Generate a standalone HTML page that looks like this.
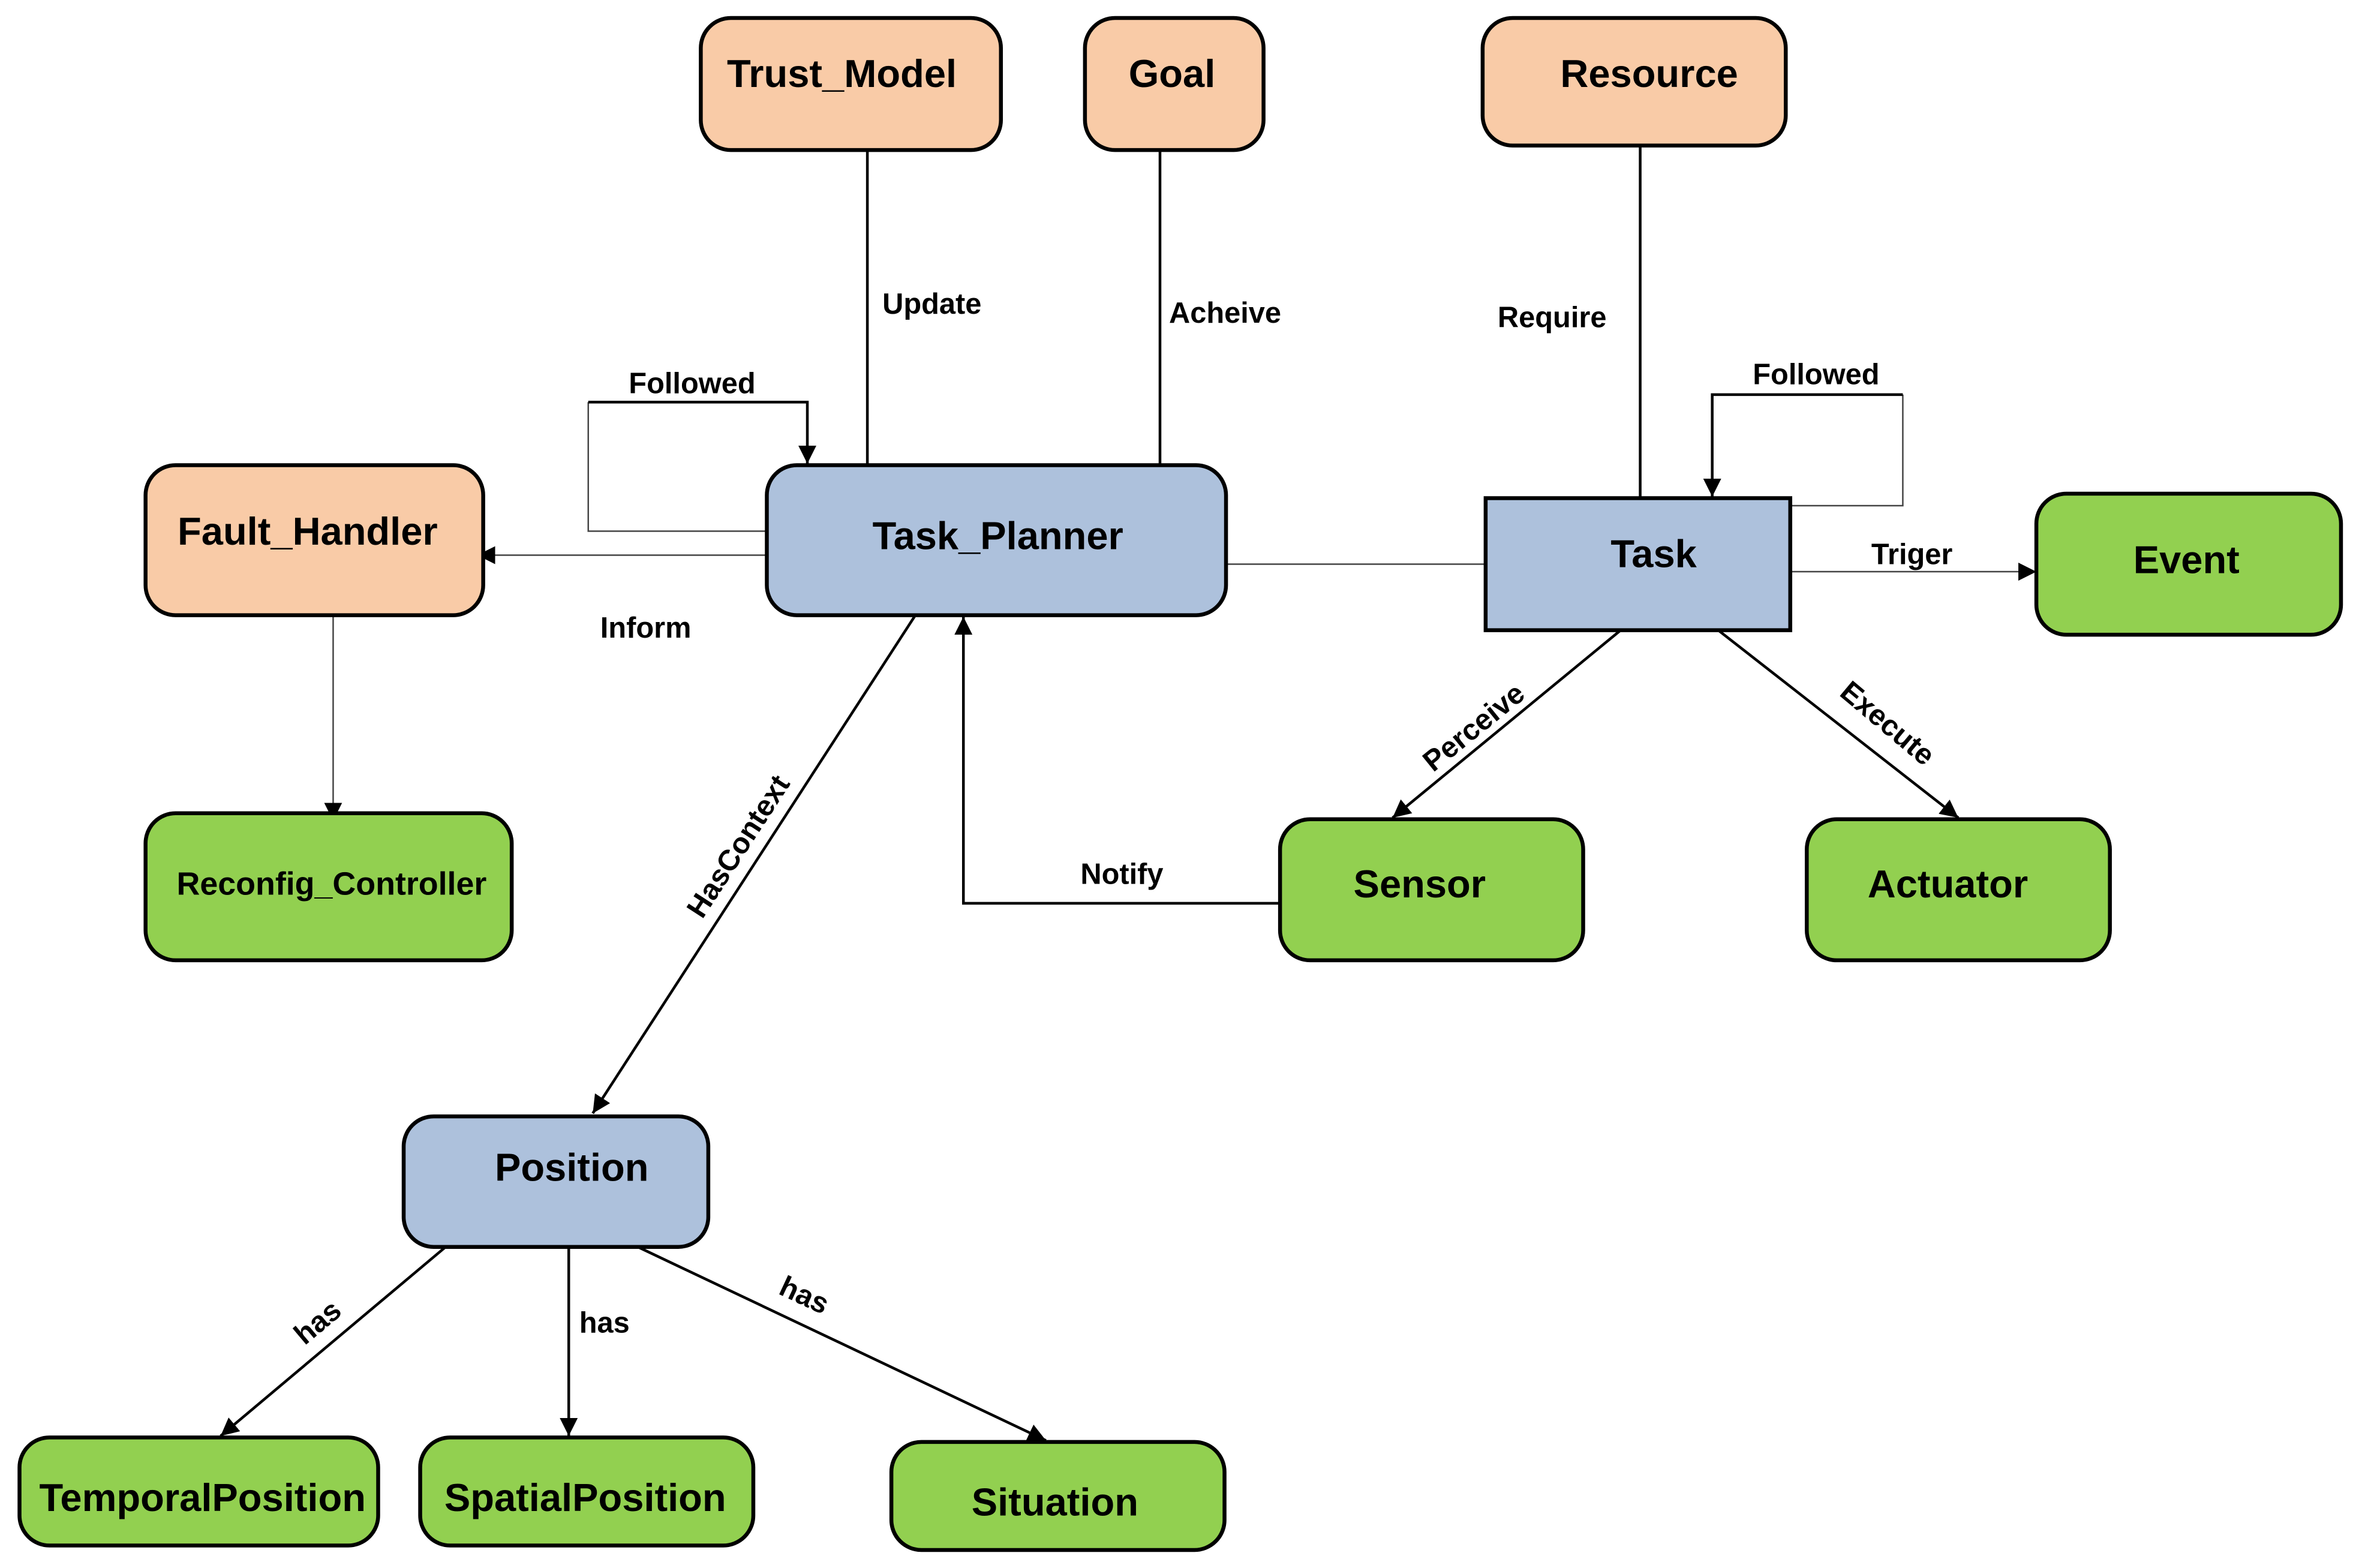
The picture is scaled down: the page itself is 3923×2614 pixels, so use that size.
<!DOCTYPE html>
<html><head><meta charset="utf-8"><style>
html,body{margin:0;padding:0;background:#fff;}
svg{display:block;}
text{font-family:"Liberation Sans",Arial,sans-serif;font-weight:bold;fill:#000;}
.n{stroke:#000;stroke-width:2.6;}
.o{fill:#f9cba7;}.b{fill:#adc1dc;}.g{fill:#92d050;}
.t{font-size:26px;text-anchor:middle;dominant-baseline:central;}
.l{font-size:19.5px;}
.e{stroke:#000;stroke-width:1.8;fill:none;}
.th{stroke:#444;stroke-width:1;fill:none;}
</style></head><body>
<svg width="3923" height="2614" viewBox="0 0 1568 1045" preserveAspectRatio="none">
<defs>
<marker id="a" viewBox="0 0 10 10" refX="10" refY="5" markerWidth="12" markerHeight="12" markerUnits="userSpaceOnUse" orient="auto"><path d="M0,0L10,5L0,10z" fill="#000"/></marker>
</defs>
<line class="e" x1="578" y1="100" x2="578" y2="310"/>
<line class="e" x1="773" y1="100" x2="773" y2="310"/>
<line class="e" x1="1093" y1="97" x2="1093" y2="332"/>
<polyline class="th" points="511,354 392,354 392,268"/>
<polyline class="e" points="392,268 538,268 538,309" marker-end="url(#a)"/>
<line class="th" x1="511" y1="370" x2="318" y2="370" marker-end="url(#a)"/>
<line class="th" x1="222" y1="410" x2="222" y2="547" marker-end="url(#a)"/>
<line class="th" x1="817" y1="376" x2="990" y2="376"/>
<line class="th" x1="1193" y1="381" x2="1357" y2="381" marker-end="url(#a)"/>
<polyline class="th" points="1193,337 1268,337 1268,263"/>
<polyline class="e" points="1268,263 1141,263 1141,331" marker-end="url(#a)"/>
<line class="e" x1="1080" y1="420" x2="928" y2="545" marker-end="url(#a)"/>
<line class="e" x1="1145" y1="420" x2="1305" y2="545" marker-end="url(#a)"/>
<polyline class="e" points="853,602 642,602 642,411" marker-end="url(#a)"/>
<line class="e" x1="610" y1="410" x2="395" y2="742" marker-end="url(#a)"/>
<line class="e" x1="297" y1="831" x2="147" y2="957" marker-end="url(#a)"/>
<line class="e" x1="379" y1="831" x2="379" y2="957" marker-end="url(#a)"/>
<line class="e" x1="425" y1="831" x2="697" y2="960" marker-end="url(#a)"/>
<text class="l" x="588" y="209">Update</text>
<text class="l" x="779" y="215">Acheive</text>
<text class="l" x="998" y="218">Require</text>
<text class="l" x="419" y="262">Followed</text>
<text class="l" x="1168" y="256">Followed</text>
<text class="l" x="400" y="425">Inform</text>
<text class="l" x="1247" y="376">Triger</text>
<text class="l" x="720" y="589">Notify</text>
<text class="l" x="386" y="888">has</text>
<text class="l" transform="translate(955,515) rotate(-39)">Perceive</text>
<text class="l" transform="translate(1225,463) rotate(40)">Execute</text>
<text class="l" transform="translate(468,613) rotate(-57)">HasContext</text>
<text class="l" transform="translate(203,897) rotate(-40)">has</text>
<text class="l" transform="translate(518,862) rotate(25)">has</text>
<rect class="n o" x="467" y="12" width="200" height="88" rx="20"/><text class="t" x="561" y="49">Trust_Model</text>
<rect class="n o" x="723" y="12" width="119" height="88" rx="20"/><text class="t" x="781" y="49">Goal</text>
<rect class="n o" x="988" y="12" width="202" height="85" rx="20"/><text class="t" x="1099" y="49">Resource</text>
<rect class="n o" x="97" y="310" width="225" height="100" rx="20"/><text class="t" x="205" y="354">Fault_Handler</text>
<rect class="n b" x="511" y="310" width="306" height="100" rx="20"/><text class="t" x="665" y="357">Task_Planner</text>
<rect class="n b" x="990" y="332" width="203" height="88"/><text class="t" x="1102" y="369">Task</text>
<rect class="n g" x="1357" y="329" width="203" height="94" rx="20"/><text class="t" x="1457" y="373">Event</text>
<rect class="n g" x="97" y="542" width="244" height="98" rx="20"/><text class="t" x="221" y="589" style="font-size:21.5px">Reconfig_Controller</text>
<rect class="n g" x="853" y="546" width="202" height="94" rx="20"/><text class="t" x="946" y="589">Sensor</text>
<rect class="n g" x="1204" y="546" width="202" height="94" rx="20"/><text class="t" x="1298" y="589">Actuator</text>
<rect class="n b" x="269" y="744" width="203" height="87" rx="20"/><text class="t" x="381" y="778">Position</text>
<rect class="n g" x="13" y="958" width="239" height="72" rx="20"/><text class="t" x="135" y="998">TemporalPosition</text>
<rect class="n g" x="280" y="958" width="222" height="72" rx="20"/><text class="t" x="390" y="998">SpatialPosition</text>
<rect class="n g" x="594" y="961" width="222" height="72" rx="20"/><text class="t" x="703" y="1001">Situation</text>
</svg>
</body></html>
